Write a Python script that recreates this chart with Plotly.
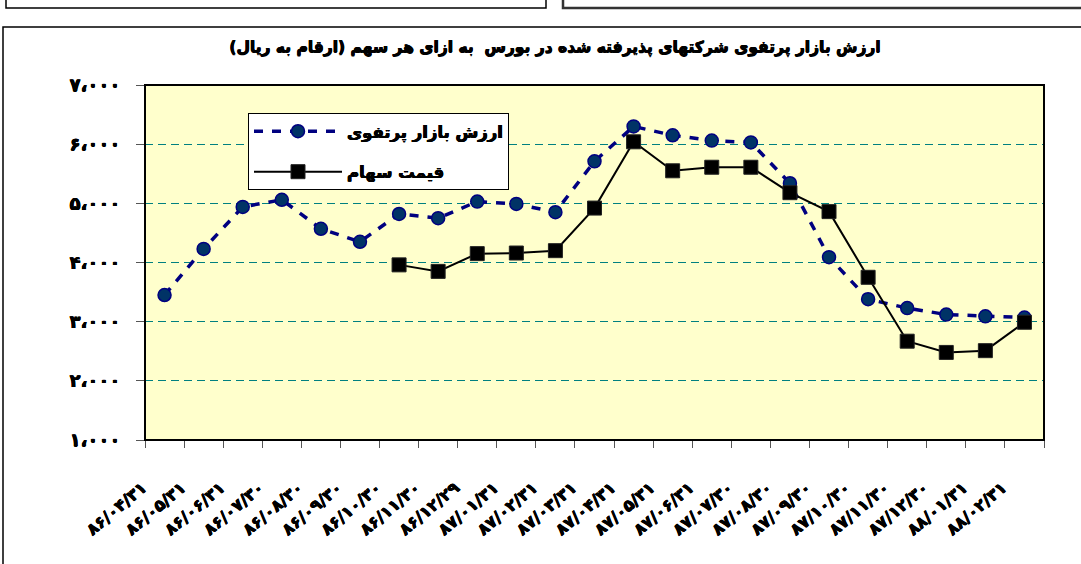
import plotly.graph_objects as go

# ---------------- data ----------------
dates = ["۸۶/۰۴/۳۱", "۸۶/۰۵/۳۱", "۸۶/۰۶/۳۱", "۸۶/۰۷/۳۰", "۸۶/۰۸/۳۰", "۸۶/۰۹/۳۰",
         "۸۶/۱۰/۳۰", "۸۶/۱۱/۳۰", "۸۶/۱۲/۲۹", "۸۷/۰۱/۳۱", "۸۷/۰۲/۳۱", "۸۷/۰۳/۳۱",
         "۸۷/۰۴/۳۱", "۸۷/۰۵/۳۱", "۸۷/۰۶/۳۱", "۸۷/۰۷/۳۰", "۸۷/۰۸/۳۰", "۸۷/۰۹/۳۰",
         "۸۷/۱۰/۳۰", "۸۷/۱۱/۳۰", "۸۷/۱۲/۳۰", "۸۸/۰۱/۳۱", "۸۸/۰۲/۳۱"]

portfolio_value = [3450, 4230, 4940, 5060, 4570, 4350, 4820, 4750, 5030, 4990, 4850, 5710,
                   6300, 6150, 6060, 6030, 5340, 4090, 3380, 3230, 3120, 3090, 3070]

share_price = [None, None, None, None, None, None, 3960, 3850, 4150, 4160, 4200, 4920,
               6040, 5550, 5610, 5610, 5180, 4860, 3750, 2670, 2480, 2510, 2990]

y_ticks = [1000, 2000, 3000, 4000, 5000, 6000, 7000]
y_tick_labels = ["۱،۰۰۰", "۲،۰۰۰", "۳،۰۰۰", "۴،۰۰۰", "۵،۰۰۰", "۶،۰۰۰", "۷،۰۰۰"]

series_names = ["ارزش بازار پرتفوی", "قیمت سهام"]
title_text = "\u200fارزش بازار پرتفوی شرکتهای پذیرفته شده در بورس  به ازای هر سهم (ارقام به ریال)\u200f"

# ---------------- layout geometry ----------------
W, H = 1081, 564
L, R, T, B = 145, 37, 85, 124
PW, PH = W - L - R, H - T - B


def px(x):
    return (x - L) / PW


def py(y):
    return (H - B - y) / PH


FONT = "DejaVu Sans, Noto Sans, sans-serif"
BOLD = "0.45px 0px 0px #000, -0.45px 0px 0px #000, 0px 0.3px 0px #000"

fig = go.Figure()

fig.add_trace(go.Scatter(
    x=dates, y=portfolio_value, name=series_names[0], mode="lines+markers",
    legendgroup="a",
    line=dict(color="#000080", width=3.5, dash="9px,9px"),
    marker=dict(symbol="circle", size=13, color="#003366",
                line=dict(color="#000080", width=1.5)),
))

fig.add_trace(go.Scatter(
    x=dates, y=share_price, name=series_names[1], mode="lines+markers",
    legendgroup="b",
    line=dict(color="#000000", width=2),
    marker=dict(symbol="square", size=14, color="#000000",
                line=dict(color="#222222", width=1)),
    connectgaps=False,
))

shapes = [
    # plot-area border
    dict(type="rect", xref="paper", yref="paper", x0=0, y0=0, x1=1, y1=1,
         line=dict(color="black", width=2), layer="above"),
    # outer chart frame
    dict(type="rect", xref="paper", yref="paper", x0=px(3), y0=py(650), x1=px(1095), y1=py(27),
         line=dict(color="black", width=1.5), layer="above"),
    # partial boxes at the top
    dict(type="rect", xref="paper", yref="paper", x0=px(6), y0=py(8), x1=px(546), y1=py(-10),
         line=dict(color="black", width=1.5), layer="above"),
    dict(type="rect", xref="paper", yref="paper", x0=px(563), y0=py(8), x1=px(1095), y1=py(-10),
         line=dict(color="#333333", width=2.5), layer="above"),
]

fig.update_layout(
    width=W, height=H,
    margin=dict(l=L, r=R, t=T, b=B, pad=0),
    paper_bgcolor="white",
    plot_bgcolor="#FFFFCC",
    font=dict(family=FONT, color="black"),
    title=dict(text=title_text, x=555 / W, xref="container", xanchor="center",
               y=1 - 47 / H, yref="container", yanchor="middle",
               font=dict(size=15.5, weight="bold", family=FONT, color="black", shadow=BOLD)),
    showlegend=True,
    legend=dict(x=px(248), y=py(113), xanchor="left", yanchor="top",
                bgcolor="white", bordercolor="black", borderwidth=1,
                font=dict(size=16.5, weight="bold", family=FONT, color="black", shadow=BOLD),
                itemwidth=88, tracegroupgap=16),
    xaxis=dict(type="category", range=[-0.5, len(dates) - 0.5], tickson="boundaries",
               ticks="outside", ticklen=7, tickcolor="#555555", tickwidth=1,
               tickangle=-40,
               tickfont=dict(size=16.5, weight="bold", family=FONT, shadow=BOLD),
               ticklabelstandoff=34, ticklabelshift=-22,
               showgrid=False, showline=False, zeroline=False),
    yaxis=dict(range=[1000, 7000], tickvals=y_ticks, ticktext=y_tick_labels,
               ticks="outside", ticklen=8, tickcolor="#555555", tickwidth=1,
               tickfont=dict(size=18, weight="bold", family=FONT, shadow=BOLD),
               ticklabelstandoff=12,
               showgrid=True, gridcolor="#008080", gridwidth=1, griddash="8px,5px",
               showline=False, zeroline=False),
    shapes=shapes,
    hovermode=False,
)

fig.write_html("out.html", config={"displayModeBar": False},
               post_script="document.body.style.margin='0px';")
